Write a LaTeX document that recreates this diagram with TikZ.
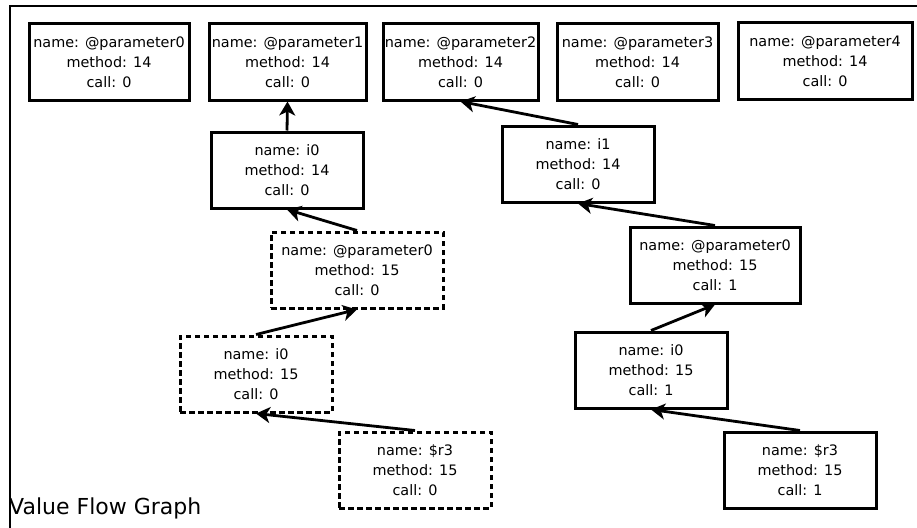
\documentclass[tikz,border=0pt]{standalone}
\usepackage{fontspec}
\setmainfont{DejaVu Sans}
\usetikzlibrary{arrows.meta}
\begin{document}
\begin{tikzpicture}[x=1pt,y=-1pt,
  vbox/.style={draw, line width=3pt, align=center, inner sep=0pt,
    minimum height=76pt, font=\fontsize{14.4}{20}\selectfont},
  dbox/.style={vbox, dash pattern=on 5.5pt off 3.5pt},
  flow/.style={line width=2.8pt, -{Stealth[length=14pt,width=16pt,inset=4pt]}}]
\useasboundingbox (0,0) rectangle (917,527);

% frame
\draw[line width=2.6pt] (10,530) -- (10,6) -- (920,6);

% method 14: parameters
\node[vbox, minimum width=160pt] (p0) at (109,62) {name: @parameter0\\method: 14\\call: 0};
\node[vbox, minimum width=157pt] (p1) at (287.5,62) {name: @parameter1\\method: 14\\call: 0};
\node[vbox, minimum width=155pt] (p2) at (460.5,62) {name: @parameter2\\method: 14\\call: 0};
\node[vbox, minimum width=161pt] (p3) at (637.5,62) {name: @parameter3\\method: 14\\call: 0};
\node[vbox, minimum width=174pt] (p4) at (825,61) {name: @parameter4\\method: 14\\call: 0};

% method 14: locals
\node[vbox, minimum width=152pt] (i0a) at (287,170) {name: i0\\method: 14\\call: 0};
\node[vbox, minimum width=152pt] (i1) at (578,164) {name: i1\\method: 14\\call: 0};

% method 15, call 0
\node[dbox, minimum width=172pt] (q0) at (357,270) {name: @parameter0\\method: 15\\call: 0};
\node[dbox, minimum width=152pt] (j0) at (256,374) {name: i0\\method: 15\\call: 0};
\node[dbox, minimum width=152pt] (r0) at (415,470) {name: \$r3\\method: 15\\call: 0};

% method 15, call 1
\node[vbox, minimum width=170pt] (q1) at (715,265) {name: @parameter0\\method: 15\\call: 1};
\node[vbox, minimum width=152pt] (j1) at (651,370) {name: i0\\method: 15\\call: 1};
\node[vbox, minimum width=152pt] (r1) at (800,470) {name: \$r3\\method: 15\\call: 1};

% value flow edges
\draw[flow] (i0a.north) -- (p1.south);
\draw[flow] (q0.north) -- (i0a.south);
\draw[flow] (j0.north) -- (q0.south);
\draw[flow] (r0.north) -- (j0.south);
\draw[flow] (i1.north) -- (p2.south);
\draw[flow] (q1.north) -- (i1.south);
\draw[flow] (j1.north) -- (q1.south);
\draw[flow] (r1.north) -- (j1.south);

% caption
\node[anchor=base west, inner sep=0pt, font=\fontsize{22}{26}\selectfont] (cap) at (9,514) {Value Flow Graph};
\end{tikzpicture}
\end{document}
